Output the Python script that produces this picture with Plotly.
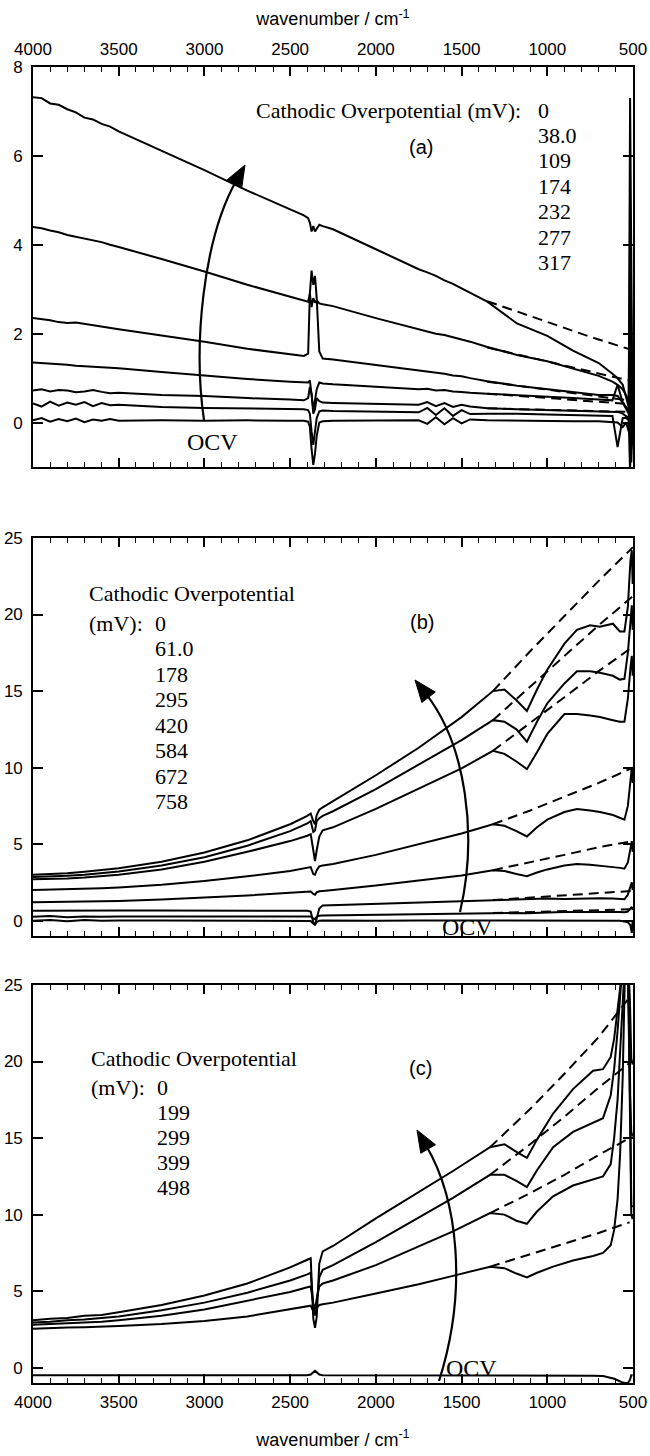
import plotly.graph_objects as go

# ---------------- data ----------------
XTICKS = [4000, 3500, 3000, 2500, 2000, 1500, 1000, 500]

# panel (a)
WN_A = [4000, 3950, 3900, 3850, 3800, 3750, 3700, 3650, 3600, 3550, 3500,
        3250, 3000, 2750, 2500,
        2420, 2395, 2385, 2375, 2365, 2355, 2345, 2330, 2310, 2250,
        2000, 1750, 1700, 1650, 1600, 1550, 1500, 1450, 1350,
        1177, 1000, 850, 700, 620, 590, 560, 540, 525, 517, 510, 503]
A_317 = [7.32, 7.30, 7.18, 7.15, 7.05, 6.98, 6.86, 6.82, 6.72, 6.66, 6.55,
         6.12, 5.68, 5.22, 4.80,
         4.66, 4.60, 4.50, 4.30, 4.42, 4.30, 4.36, 4.45, 4.42, 4.35,
         3.90, 3.45, 3.38, 3.30, 3.20, 3.12, 3.02, 2.92, 2.72,
         2.23, 1.95, 1.62, 1.34, 1.10, 1.00, 0.85, 0.55, 0.35, 7.30, 3.00, 0.00]
A_277 = [4.40, 4.37, 4.32, 4.28, 4.22, 4.18, 4.15, 4.10, 4.06, 4.00, 3.95,
         3.68, 3.40, 3.10, 2.82,
         2.74, 2.72, 2.90, 2.60, 2.80, 2.70, 2.75, 2.68, 2.66, 2.62,
         2.35, 2.10, 2.06, 2.00, 1.97, 1.92, 1.88, 1.82, 1.70,
         1.52, 1.38, 1.22, 1.05, 0.92, 0.85, 0.75, 0.62, 0.50, 4.40, 1.50, 0.20]
A_232 = [2.35, 2.33, 2.30, 2.26, 2.24, 2.25, 2.22, 2.18, 2.16, 2.12, 2.10,
         1.96, 1.82, 1.66, 1.54,
         1.50, 1.55, 2.90, 3.42, 3.10, 3.30, 2.80, 1.60, 1.44, 1.42,
         1.30, 1.17, 1.15, 1.12, 1.10, 1.06, 1.04, 1.00, 0.93,
         0.83, 0.75, 0.68, 0.62, 0.62, 0.60, 0.45, 0.30, 0.20, 2.30, 0.60, -0.20]
A_174 = [1.35, 1.34, 1.33, 1.31, 1.30, 1.28, 1.27, 1.26, 1.25, 1.23, 1.22,
         1.14, 1.06, 0.98, 0.92,
         0.90, 0.90, 0.95, 0.55, 0.30, 0.50, 0.75, 0.90, 0.88, 0.86,
         0.80, 0.75, 0.76, 0.72, 0.73, 0.70, 0.69, 0.67, 0.65,
         0.62, 0.58, 0.55, 0.52, 0.50, 0.85, 0.45, 0.35, 0.25, 1.20, 0.20, -0.50]
A_109 = [0.72, 0.75, 0.70, 0.73, 0.72, 0.68, 0.70, 0.73, 0.69, 0.66, 0.67,
         0.62, 0.60, 0.55, 0.52,
         0.50, 0.55, 0.80, 0.65, 0.20, 0.30, 0.55, 0.48, 0.45, 0.44,
         0.42, 0.40, 0.46, 0.37, 0.44, 0.35, 0.40, 0.36, 0.32,
         0.30, 0.28, 0.27, 0.26, 0.25, 0.24, 0.20, 0.15, 0.10, 0.80, -0.60, 0.10]
A_38 = [0.43, 0.36, 0.47, 0.38, 0.45, 0.40, 0.46, 0.37, 0.44, 0.39, 0.40,
        0.35, 0.33, 0.31, 0.30,
        0.30, 0.28, 0.20, -0.20, -0.50, -0.20, 0.10, 0.25, 0.27, 0.26,
        0.25, 0.23, 0.33, 0.17, 0.32, 0.15, 0.28, 0.19, 0.20,
        0.20, 0.18, 0.17, 0.16, 0.15, -0.55, 0.10, 0.10, 0.05, -1.10, 0.40, 0.00]
A_0 = [0.05, 0.10, 0.02, 0.08, 0.03, 0.09, 0.01, 0.07, 0.04, 0.08, 0.04,
       0.05, 0.04, 0.05, 0.04,
       0.04, 0.02, -0.10, -0.60, -0.95, -0.70, -0.30, 0.00, 0.03, 0.04,
       0.04, 0.05, -0.03, 0.12, -0.04, 0.10, -0.02, 0.07, 0.05,
       0.04, 0.04, 0.03, 0.03, 0.02, 0.00, -0.10, 0.00, -0.20, 0.50, -0.90, 0.00]
WN_A_FIT = [1350, 1150, 950, 750, 529]
FIT_A_317 = [2.73, 2.46, 2.20, 1.93, 1.66]
FIT_A_277 = [1.69, 1.51, 1.33, 1.15, 0.95]
FIT_A_232 = [0.92, 0.82, 0.71, 0.61, 0.50]
FIT_A_174 = [0.65, 0.60, 0.54, 0.48, 0.42]
FIT_A_109 = [0.32, 0.30, 0.28, 0.26, 0.24]
POT_A = ["0", "38.0", "109", "174", "232", "277", "317"]

# panel (b)
WN_B = [4000, 3900, 3800, 3700, 3600, 3500, 3250, 3000, 2750, 2500,
        2400, 2380, 2365, 2355, 2345, 2330, 2310, 2250,
        2000, 1750, 1500, 1317,
        1250, 1180, 1119, 1060, 1000, 900, 827, 750, 693, 617, 577, 550, 530, 515, 507, 502]
B_758 = [3.00, 3.05, 3.10, 3.20, 3.30, 3.42, 3.85, 4.45, 5.25, 6.30,
         6.85, 7.00, 6.50, 6.30, 6.90, 7.25, 7.40, 7.80,
         9.50, 11.3, 13.3, 15.0,
         15.1, 14.4, 13.7, 15.1, 16.4, 18.1, 19.0, 19.3, 19.2, 19.4, 18.9, 18.9, 20.5, 23.5, 24.2, 22.0]
B_672 = [2.85, 2.88, 2.93, 3.00, 3.10, 3.22, 3.60, 4.15, 4.90, 5.85,
         6.35, 6.50, 5.80, 5.90, 6.50, 6.70, 6.85, 7.15,
         8.60, 10.2, 11.8, 13.1,
         13.0, 12.5, 11.7, 13.0, 14.2, 15.5, 16.3, 16.3, 16.2, 16.0, 15.75, 15.8, 17.5, 19.5, 20.6, 19.0]
B_584 = [2.70, 2.72, 2.76, 2.82, 2.90, 3.00, 3.35, 3.85, 4.50, 5.20,
         5.55, 5.65, 4.60, 3.90, 4.60, 5.50, 5.90, 6.10,
         7.30, 8.60, 9.95, 11.1,
         10.9, 10.4, 9.9, 11.0, 12.2, 13.5, 13.5, 13.4, 13.3, 13.1, 13.0, 13.0, 14.5, 16.5, 17.3, 16.0]
B_420 = [2.00, 2.02, 2.05, 2.08, 2.12, 2.17, 2.35, 2.60, 2.90, 3.25,
         3.42, 3.50, 3.05, 3.00, 3.30, 3.55, 3.60, 3.70,
         4.30, 5.00, 5.70, 6.30,
         6.20, 5.85, 5.50, 6.10, 6.60, 7.10, 7.30, 7.20, 7.10, 6.90, 6.70, 6.60, 7.50, 9.20, 10.0, 9.0]
B_295 = [1.20, 1.21, 1.22, 1.24, 1.26, 1.28, 1.38, 1.50, 1.65, 1.82,
         1.88, 1.90, 1.75, 1.70, 1.85, 1.92, 1.94, 2.00,
         2.30, 2.62, 2.95, 3.30,
         3.25, 3.05, 2.90, 3.15, 3.35, 3.60, 3.70, 3.65, 3.60, 3.50, 3.45, 3.40, 3.80, 4.60, 5.20, 4.50]
B_178 = [0.65, 0.66, 0.65, 0.67, 0.66, 0.66, 0.66, 0.66, 0.66, 0.66,
         0.65, 0.60, -0.10, -0.30, 0.20, 0.80, 1.00, 1.02,
         1.10, 1.18, 1.27, 1.35,
         1.38, 1.40, 1.38, 1.42, 1.45, 1.42, 1.45, 1.48, 1.47, 1.45, 1.42, 1.40, 1.70, 2.20, 2.50, 2.00]
B_61 = [0.25, 0.30, 0.22, 0.28, 0.25, 0.27, 0.27, 0.28, 0.29, 0.30,
        0.30, 0.28, 0.15, 0.10, 0.25, 0.33, 0.34, 0.35,
        0.38, 0.42, 0.46, 0.50,
        0.50, 0.50, 0.48, 0.52, 0.54, 0.56, 0.57, 0.58, 0.58, 0.58, 0.57, 0.55, 0.60, 0.80, 0.90, 0.70]
B_0 = [0.00, 0.05, -0.03, 0.04, 0.00, 0.02, 0.01, 0.00, 0.01, 0.00,
       0.00, -0.02, -0.20, -0.25, -0.10, 0.00, 0.01, 0.00,
       0.00, 0.01, 0.00, 0.00,
       0.00, 0.00, -0.02, 0.00, 0.00, 0.00, 0.00, 0.00, 0.00, 0.00, 0.00, -0.05, -0.10, -0.30, -0.80, 0.00]
WN_B_FIT = [1317, 1100, 900, 700, 500]
FIT_B_758 = [15.0, 17.6, 19.9, 22.2, 24.4]
FIT_B_672 = [13.1, 15.3, 17.3, 19.3, 21.2]
FIT_B_584 = [11.1, 12.9, 14.6, 16.3, 17.9]
FIT_B_420 = [6.3, 7.2, 8.1, 9.0, 10.0]
FIT_B_295 = [3.3, 3.8, 4.3, 4.8, 5.2]
FIT_B_178 = [1.35, 1.5, 1.65, 1.8, 1.95]
FIT_B_61 = [0.5, 0.57, 0.63, 0.69, 0.75]
POT_B = ["0", "61.0", "178", "295", "420", "584", "672", "758"]

# panel (c)
WN_C = [4000, 3900, 3800, 3700, 3600, 3500, 3250, 3000, 2750, 2500,
        2400, 2380, 2365, 2355, 2345, 2330, 2310, 2250,
        2000, 1750, 1550, 1334,
        1250, 1180, 1119, 1060, 966, 850, 733, 675, 630, 610, 590, 575, 560, 545, 530, 518, 510, 502]
C_498 = [3.10, 3.20, 3.25, 3.40, 3.45, 3.62, 4.10, 4.72, 5.50, 6.55,
         7.05, 7.15, 3.20, 2.60, 3.30, 6.80, 7.60, 7.95,
         9.75, 11.45, 12.85, 14.4,
         14.6, 14.1, 13.7, 14.9, 16.6, 18.2, 19.4, 19.5, 20.3, 21.5, 23.2, 24.8, 26.5, 27.0, 27.0, 20.0, 10.6, 10.5]
C_399 = [2.95, 3.00, 3.10, 3.15, 3.25, 3.35, 3.75, 4.25, 4.90, 5.70,
         6.10, 6.20, 4.00, 3.40, 4.20, 5.90, 6.40, 6.70,
         8.20, 9.80, 11.1, 12.6,
         12.6, 12.2, 11.8, 12.9, 14.4, 15.4, 16.0, 16.3, 17.8, 19.5, 22.0, 24.5, 26.5, 27.0, 27.0, 24.0, 20.2, 19.8]
C_299 = [2.80, 2.85, 2.90, 2.95, 3.00, 3.10, 3.40, 3.80, 4.35, 4.95,
         5.25, 5.30, 4.20, 3.80, 4.50, 5.30, 5.50, 5.70,
         6.70, 7.90, 8.90, 10.1,
         10.0, 9.60, 9.40, 10.2, 11.2, 11.9, 12.3, 12.5, 13.3, 15.0, 17.5, 20.5, 24.0, 27.0, 27.0, 18.0, 15.4, 15.1]
C_199 = [2.55, 2.60, 2.62, 2.65, 2.68, 2.72, 2.85, 3.05, 3.35, 3.80,
         4.00, 4.05, 3.70, 3.60, 3.90, 4.10, 4.15, 4.25,
         4.85, 5.45, 6.00, 6.60,
         6.50, 6.15, 5.90, 6.20, 6.60, 7.00, 7.30, 7.50, 8.00, 9.00, 11.0, 14.0, 19.0, 27.0, 27.0, 14.0, 10.0, 9.70]
C_0 = [-0.50, -0.50, -0.50, -0.50, -0.50, -0.50, -0.50, -0.50, -0.50, -0.50,
       -0.50, -0.45, -0.30, -0.20, -0.30, -0.45, -0.50, -0.50,
       -0.50, -0.50, -0.50, -0.50,
       -0.50, -0.50, -0.50, -0.50, -0.50, -0.50, -0.52, -0.55, -0.65, -0.72, -0.82, -0.90, -0.97, -1.00, -1.00, -0.80, -0.50, -0.50]
WN_C_FIT = [1334, 1100, 900, 700, 520]
FIT_C_498 = [14.4, 16.9, 19.2, 21.6, 24.2]
FIT_C_399 = [12.6, 14.6, 16.4, 18.3, 19.9]
FIT_C_299 = [10.1, 11.4, 12.6, 13.9, 15.0]
FIT_C_199 = [6.6, 7.4, 8.1, 8.8, 9.5]
POT_C = ["0", "199", "299", "399", "498"]

# ---------------- geometry (pixels of the 650 x 1456 page) ----------------
W, H = 650, 1456
L, R, T, B = 33, 633, 67, 1383
PANELS = {"a": (67, 467, -1, 8), "b": (538, 936, -1, 25), "c": (985, 1383, -1, 25)}
AX = {"a": ("x", "y"), "b": ("x2", "y2"), "c": ("x3", "y3")}

SANS = "Liberation Sans, Arial, sans-serif"
SERIF = "Liberation Serif, Times New Roman, serif"
LW = 2.0


def px2paper(x):
    return (x - L) / (R - L)


def py2paper(y):
    return (B - y) / (B - T)


def to_data(panel, x, y):
    top, bot, lo, hi = PANELS[panel]
    w = 4000 - (x - L) * 3500 / (R - L)
    v = hi - (y - top) * (hi - lo) / (bot - top)
    return w, v


fig = go.Figure()


def add_curves(panel, wn, curves, fit_wn, fits):
    xa, ya = AX[panel]
    for ys in curves:
        fig.add_trace(go.Scatter(x=wn, y=ys, mode="lines", xaxis=xa, yaxis=ya,
                                 line=dict(color="black", width=LW), showlegend=False,
                                 hoverinfo="skip"))
    for ys in fits:
        fig.add_trace(go.Scatter(x=fit_wn, y=ys, mode="lines", xaxis=xa, yaxis=ya,
                                 line=dict(color="black", width=LW, dash="10px,6px"),
                                 showlegend=False, hoverinfo="skip"))


add_curves("a", WN_A, [A_0, A_38, A_109, A_174, A_232, A_277, A_317], WN_A_FIT,
           [FIT_A_317, FIT_A_277, FIT_A_232, FIT_A_174, FIT_A_109])
add_curves("b", WN_B, [B_0, B_61, B_178, B_295, B_420, B_584, B_672, B_758], WN_B_FIT,
           [FIT_B_758, FIT_B_672, FIT_B_584, FIT_B_420, FIT_B_295, FIT_B_178, FIT_B_61])
add_curves("c", WN_C, [C_0, C_199, C_299, C_399, C_498], WN_C_FIT,
           [FIT_C_498, FIT_C_399, FIT_C_299, FIT_C_199])

# ---------------- curved arrows ----------------
shapes = []


def arrow(panel, p0, p1, p2, tip, hl=22, hw=8.5):
    xa, ya = AX[panel]
    dx, dy = tip[0] - p2[0], tip[1] - p2[1]
    n = (dx * dx + dy * dy) ** 0.5
    ux, uy = dx / n, dy / n
    base = (tip[0] - hl * ux, tip[1] - hl * uy)
    px_, py_ = -uy, ux
    b1 = (base[0] + hw * px_, base[1] + hw * py_)
    b2 = (base[0] - hw * px_, base[1] - hw * py_)
    d = lambda p: "%.3f,%.4f" % to_data(panel, p[0], p[1])
    shapes.append(dict(type="path", xref=xa, yref=ya,
                       path="M %s C %s %s %s" % (d(p0), d(p1), d(p2), d((base[0] + 4 * ux, base[1] + 4 * uy))),
                       line=dict(color="black", width=2.2)))
    shapes.append(dict(type="path", xref=xa, yref=ya,
                       path="M %s L %s L %s Z" % (d(tip), d(b1), d(b2)),
                       line=dict(color="black", width=1), fillcolor="black"))


arrow("a", (204, 420), (193, 345), (203, 240), (245, 165))
arrow("b", (460, 912), (478, 835), (466, 745), (415, 680))
arrow("c", (439, 1381), (468, 1290), (458, 1200), (417, 1130))

# ---------------- text ----------------
ann = []


def text(x, y, s, font, size, xanchor="center"):
    ann.append(dict(x=px2paper(x), y=py2paper(y), xref="paper", yref="paper", text=s,
                    showarrow=False, xanchor=xanchor, yanchor="middle",
                    font=dict(family=font, size=size, color="black")))


LEG = 22
text(523, 110, "Cathodic Overpotential (mV):", SERIF, LEG, "right")
for i, p in enumerate(POT_A):
    text(536, 110 + 25.4 * i, p, SERIF, LEG, "left")
text(87, 593, "Cathodic Overpotential", SERIF, LEG, "left")
text(87, 623, "(mV):", SERIF, LEG, "left")
for i, p in enumerate(POT_B):
    text(153, 623 + 25.5 * i, p, SERIF, LEG, "left")
text(89, 1058, "Cathodic Overpotential", SERIF, LEG, "left")
text(89, 1087, "(mV):", SERIF, LEG, "left")
for i, p in enumerate(POT_C):
    text(155, 1087 + 25.2 * i, p, SERIF, LEG, "left")

text(421, 147, "(a)", SANS, 20)
text(422, 622, "(b)", SANS, 20)
text(420, 1068, "(c)", SANS, 20)

text(212, 442, "OCV", SERIF, 24)
text(467, 927, "OCV", SERIF, 24)
text(471, 1368, "OCV", SERIF, 24)

# ---------------- axes ----------------
tickfont = dict(family=SANS, size=17, color="black")
xbase = dict(range=[4000, 500], tickmode="array", tickvals=XTICKS, ticks="inside", ticklen=9,
             tickwidth=1.5, tickcolor="black",
             minor=dict(ticks="inside", ticklen=5, tickmode="linear", tick0=500, dtick=100,
                        tickwidth=1.2, tickcolor="black"),
             showline=True, linecolor="black", linewidth=1.6, mirror="ticks",
             showgrid=False, zeroline=False, tickfont=tickfont, ticklabelstandoff=3)
ybase = dict(tickmode="linear", tick0=0, ticks="inside", ticklen=10, tickwidth=1.5,
             tickcolor="black", showline=True, linecolor="black", linewidth=1.6,
             mirror="ticks", showgrid=False, zeroline=False, tickfont=tickfont,
             ticklabelstandoff=5)

title_font = dict(family=SANS, size=18, color="black")
fig.update_layout(
    width=W, height=H, template="none",
    paper_bgcolor="white", plot_bgcolor="white",
    margin=dict(l=L, r=W - R, t=T, b=H - B, pad=0),
    showlegend=False,
    xaxis=dict(xbase, anchor="y", side="top", domain=[0, 1],
               title=dict(text="wavenumber / cm<sup>-1</sup>", font=title_font, standoff=10)),
    xaxis2=dict(xbase, anchor="y2", domain=[0, 1], showticklabels=False),
    xaxis3=dict(xbase, anchor="y3", domain=[0, 1],
                title=dict(text="wavenumber / cm<sup>-1</sup>", font=title_font, standoff=22)),
    yaxis=dict(ybase, range=[-1, 8], dtick=2, anchor="x",
               domain=[py2paper(467), py2paper(67)]),
    yaxis2=dict(ybase, range=[-1, 25], dtick=5, anchor="x2",
                domain=[py2paper(936), py2paper(538)]),
    yaxis3=dict(ybase, range=[-1, 25], dtick=5, anchor="x3",
                domain=[py2paper(1383), py2paper(985)]),
    shapes=shapes, annotations=ann,
)

fig.write_html("out.html")
